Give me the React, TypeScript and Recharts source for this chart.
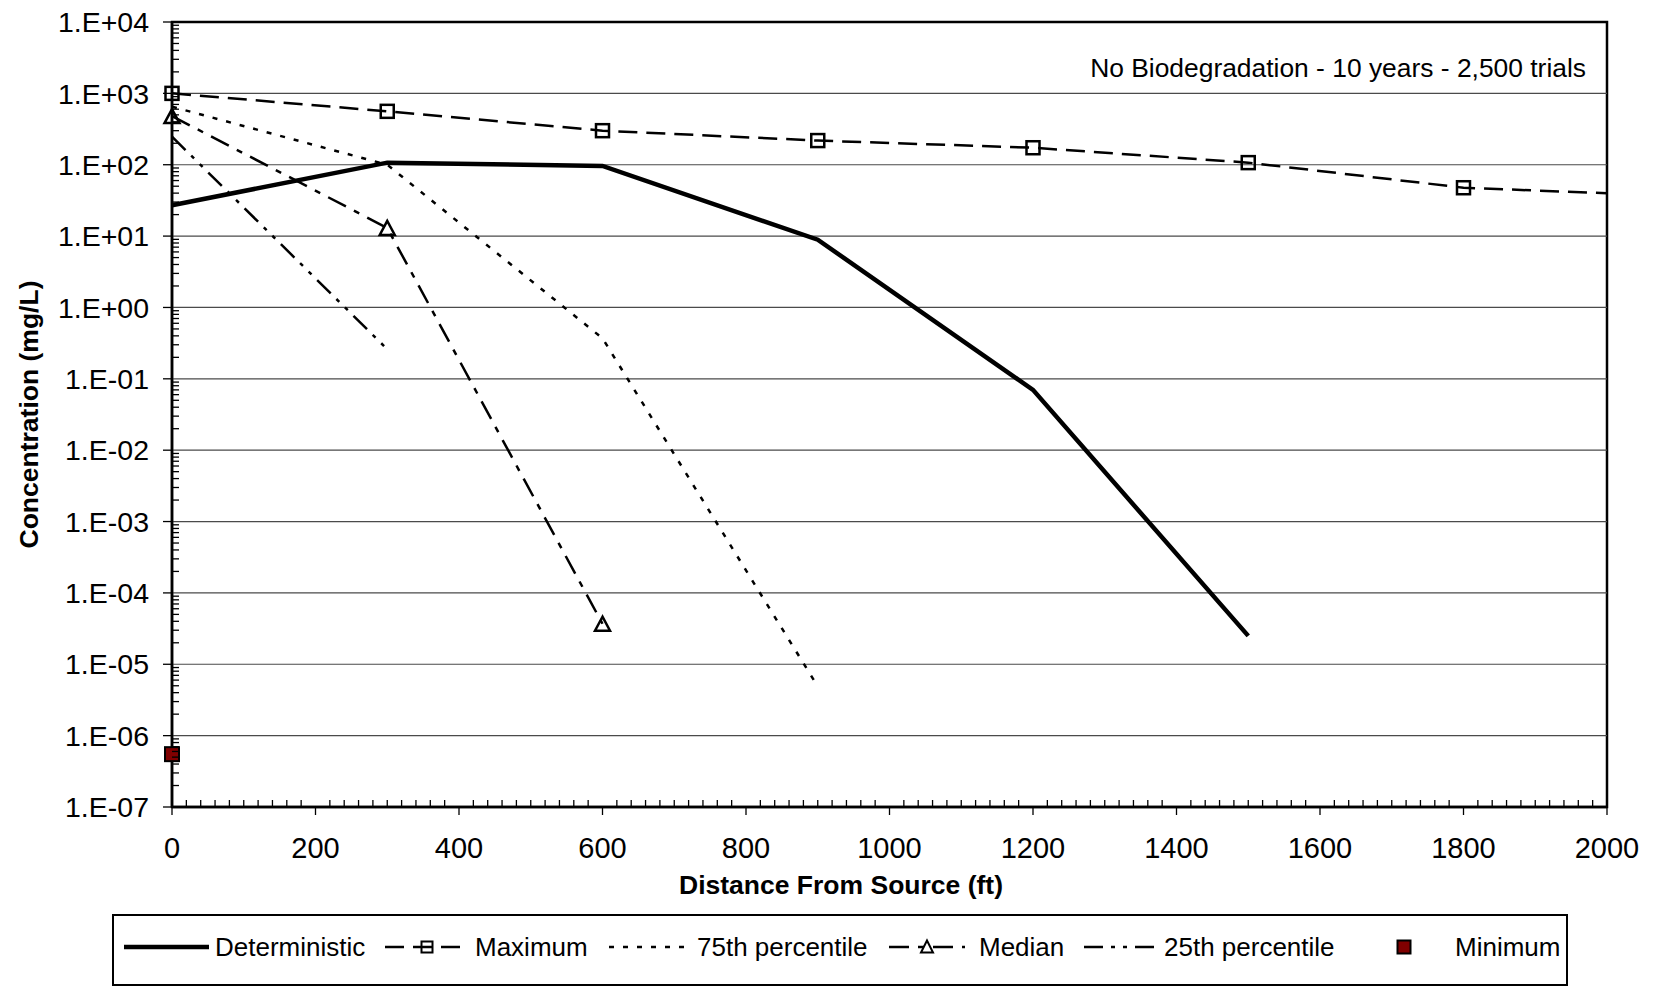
import React from "react";
import { ComposedChart, Line, XAxis, YAxis, ReferenceLine, ReferenceArea, Legend, Label } from "recharts";

const FONT = "'Liberation Sans', Arial, sans-serif";

// distance from source (ft)
const distanceFt = [0, 300, 600, 900, 1200, 1500, 1800, 2000];

// concentration (mg/L)
const deterministic = [27, 107, 96, 8.9, 0.07, 2.5e-5];
const maximum = [1000, 560, 300, 218, 173, 107, 47.6, 39.8];
const pct75 = [650, 100, 0.37, 4.9e-6];
const median = [480, 13, 3.7e-5];
const pct25 = [247, 0.26];
const minimum = [5.5e-7];

const xTicks = [0, 200, 400, 600, 800, 1000, 1200, 1400, 1600, 1800, 2000];
const yTicks = [1e-7, 1e-6, 1e-5, 1e-4, 1e-3, 1e-2, 1e-1, 1, 10, 100, 1000, 10000];
const yTickLabels = [
  "1.E-07", "1.E-06", "1.E-05", "1.E-04", "1.E-03", "1.E-02",
  "1.E-01", "1.E+00", "1.E+01", "1.E+02", "1.E+03", "1.E+04",
];

const note = "No Biodegradation - 10 years - 2,500 trials";

// minor ticks: every 20 ft, and 2..9 inside each decade
const xMinor = Array.from({ length: 101 }, (_, i) => i * 20);
const yMinor = yTicks.slice(0, -1).flatMap((d) => [2, 3, 4, 5, 6, 7, 8, 9].map((m) => m * d));
const yAll = [...yTicks, ...yMinor].sort((a, b) => a - b);

const toPoints = (vals: number[]) => vals.map((y, i) => ({ x: distanceFt[i], y }));

const MAX_DASH = "19 9";
const P75_DASH = "5 9";
const MED_DASH = "20 9 6 9";
const P25_DASH = "19 8 4 8 4 8";

const isMajorY = (v: number) => yTicks.findIndex((t) => Math.abs(t - v) <= t * 1e-6);

const YTick = (props: any) => {
  const { x, y, payload } = props;
  const i = isMajorY(payload.value);
  if (i < 0) {
    return <line x1={x} x2={x + 7} y1={y} y2={y} stroke="#000" strokeWidth={1.3} />;
  }
  return (
    <g>
      <line x1={x - 9} x2={x} y1={y} y2={y} stroke="#000" strokeWidth={1.3} />
      <text x={x - 23} y={y} dy="0.358em" textAnchor="end" fontSize={28.5} fontFamily={FONT} fill="#000">
        {yTickLabels[i]}
      </text>
    </g>
  );
};

const XTick = (props: any) => {
  const { x, y, payload } = props;
  const v = payload.value;
  if (!xTicks.includes(v)) {
    return <line x1={x} x2={x} y1={y} y2={y - 7} stroke="#000" strokeWidth={1.3} />;
  }
  return (
    <g>
      <line x1={x} x2={x} y1={y} y2={y + 8} stroke="#000" strokeWidth={1.3} />
      <text x={x} y={y + 41} dy="0.358em" textAnchor="middle" fontSize={29} fontFamily={FONT} fill="#000">
        {v}
      </text>
    </g>
  );
};

const OpenSquare = (props: any) => {
  const { cx, cy, index } = props;
  // last point sits on the axis edge, Excel shows no marker there
  if (index === maximum.length - 1) return <g key={`sq-${index}`} />;
  return (
    <rect key={`sq-${index}`} x={cx - 6.5} y={cy - 6.5} width={13} height={13} fill="none" stroke="#000" strokeWidth={2.5} />
  );
};

const OpenTriangle = (props: any) => {
  const { cx, cy, index } = props;
  return (
    <polygon
      key={`tri-${index}`}
      points={`${cx},${cy - 7} ${cx - 7.5},${cy + 7} ${cx + 7.5},${cy + 7}`}
      fill="none"
      stroke="#000"
      strokeWidth={2.5}
    />
  );
};

const RedSquare = (props: any) => {
  const { cx, cy, index } = props;
  return (
    <rect key={`min-${index}`} x={cx - 7} y={cy - 7} width={14} height={14} fill="#800000" stroke="#000" strokeWidth={2} />
  );
};

const legendItems = [
  { name: "Deterministic", left: 10, w: 85, dash: undefined, sw: 4.5, marker: null, labelLeft: 101 },
  { name: "Maximum", left: 271, w: 84, dash: MAX_DASH, sw: 2.5, marker: "square", labelLeft: 361 },
  { name: "75th percentile", left: 495, w: 81, dash: P75_DASH, sw: 2.5, marker: null, labelLeft: 583 },
  { name: "Median", left: 775, w: 76, dash: MED_DASH, sw: 2.5, marker: "triangle", labelLeft: 865 },
  { name: "25th percentile", left: 970, w: 75, dash: P25_DASH, sw: 2.5, marker: null, labelLeft: 1050 },
  { name: "Minimum", left: 1280, w: 20, dash: undefined, sw: 0, marker: "red", labelLeft: 1341 },
];

const LegendBox = () => (
  <div
    style={{
      position: "relative",
      width: "100%",
      height: "100%",
      boxSizing: "border-box",
      border: "2px solid #000",
      background: "#fff",
      fontFamily: FONT,
      fontSize: 26,
      color: "#000",
    }}
  >
    {legendItems.map((it) => (
      <React.Fragment key={it.name}>
        <svg width={it.w} height={20} style={{ position: "absolute", left: it.left, top: 21 }}>
          {it.sw > 0 && (
            <line x1={0} x2={it.w} y1={10} y2={10} stroke="#000" strokeWidth={it.sw} strokeDasharray={it.dash} />
          )}
          {it.marker === "square" && (
            <rect x={it.w / 2 - 5.5} y={4.5} width={11} height={11} fill="none" stroke="#000" strokeWidth={2} />
          )}
          {it.marker === "triangle" && (
            <polygon
              points={`${it.w / 2},${3.5} ${it.w / 2 - 6},${15.5} ${it.w / 2 + 6},${15.5}`}
              fill="none"
              stroke="#000"
              strokeWidth={2}
            />
          )}
          {it.marker === "red" && (
            <rect x={it.w / 2 - 6.5} y={3.5} width={13} height={13} fill="#800000" stroke="#000" strokeWidth={2} />
          )}
        </svg>
        <div style={{ position: "absolute", left: it.labelLeft, top: 16, lineHeight: "30px", whiteSpace: "nowrap" }}>
          {it.name}
        </div>
      </React.Fragment>
    ))}
  </div>
);

export default function App() {
  return (
    <div style={{ position: "relative", width: 1640, height: 979, fontFamily: FONT }}>
      <style>{`.recharts-surface, .recharts-wrapper { overflow: visible !important; }`}</style>
      <ComposedChart width={1640} height={979} margin={{ top: 14, right: 41, bottom: 0, left: 0 }}>
        <XAxis
          xAxisId="d"
          dataKey="x"
          type="number"
          domain={[0, 2000]}
          ticks={xMinor}
          interval={0}
          tick={<XTick />}
          tickLine={false}
          tickSize={0}
          tickMargin={0}
          height={108}
          axisLine={{ stroke: "#000", strokeWidth: 2.5 }}
        >
          <Label
            content={(p: any) => {
              const vb = p.viewBox;
              return (
                <text
                  x={vb.x + vb.width / 2 - 48.5}
                  y={vb.y + 78}
                  dy="0.358em"
                  textAnchor="middle"
                  fontSize={26.5}
                  fontWeight="bold"
                  fontFamily={FONT}
                  fill="#000"
                >
                  Distance From Source (ft)
                </text>
              );
            }}
          />
        </XAxis>
        <YAxis
          yAxisId="c"
          dataKey="y"
          type="number"
          scale="log"
          domain={[1e-7, 1e4]}
          ticks={yAll}
          interval={0}
          tick={<YTick />}
          tickLine={false}
          tickSize={0}
          tickMargin={0}
          width={164}
          axisLine={{ stroke: "#000", strokeWidth: 2.5 }}
        >
          <Label
            content={(p: any) => {
              const vb = p.viewBox;
              const cx = vb.x + 20.5;
              const cy = vb.y + vb.height / 2;
              return (
                <text
                  x={cx}
                  y={cy}
                  dy="0.358em"
                  transform={`rotate(-90, ${cx}, ${cy})`}
                  textAnchor="middle"
                  fontSize={26.5}
                  fontWeight="bold"
                  fontFamily={FONT}
                  fill="#000"
                >
                  Concentration (mg/L)
                </text>
              );
            }}
          />
        </YAxis>

        {yTicks.slice(1, -1).map((v) => (
          <ReferenceLine key={v} xAxisId="d" yAxisId="c" y={v} stroke="#4a4a4a" strokeWidth={1.2} />
        ))}
        <ReferenceArea
          xAxisId="d"
          yAxisId="c"
          x1={0}
          x2={2000}
          y1={1e-7}
          y2={1e4}
          fill="none"
          fillOpacity={0}
          stroke="#000"
          strokeWidth={2.5}
        />

        <Line
          xAxisId="d"
          yAxisId="c"
          name="Maximum"
          data={toPoints(maximum)}
          dataKey="y"
          stroke="#000"
          strokeWidth={2.5}
          strokeDasharray={MAX_DASH}
          dot={OpenSquare}
          activeDot={false}
          isAnimationActive={false}
        />
        <Line
          xAxisId="d"
          yAxisId="c"
          name="75th percentile"
          data={toPoints(pct75)}
          dataKey="y"
          stroke="#000"
          strokeWidth={2.5}
          strokeDasharray={P75_DASH}
          dot={false}
          activeDot={false}
          isAnimationActive={false}
        />
        <Line
          xAxisId="d"
          yAxisId="c"
          name="Median"
          data={toPoints(median)}
          dataKey="y"
          stroke="#000"
          strokeWidth={2.5}
          strokeDasharray={MED_DASH}
          dot={OpenTriangle}
          activeDot={false}
          isAnimationActive={false}
        />
        <Line
          xAxisId="d"
          yAxisId="c"
          name="25th percentile"
          data={toPoints(pct25)}
          dataKey="y"
          stroke="#000"
          strokeWidth={2.5}
          strokeDasharray={P25_DASH}
          dot={false}
          activeDot={false}
          isAnimationActive={false}
        />
        <Line
          xAxisId="d"
          yAxisId="c"
          name="Deterministic"
          data={toPoints(deterministic)}
          dataKey="y"
          stroke="#000"
          strokeWidth={4.5}
          dot={false}
          activeDot={false}
          isAnimationActive={false}
        />
        <Line
          xAxisId="d"
          yAxisId="c"
          name="Minimum"
          data={toPoints(minimum)}
          dataKey="y"
          stroke="none"
          dot={RedSquare}
          activeDot={false}
          isAnimationActive={false}
        />

        <Legend
          verticalAlign="bottom"
          wrapperStyle={{ left: 104, top: 906, width: 1456, height: 72 }}
          content={() => <LegendBox />}
        />
      </ComposedChart>
      <div
        style={{
          position: "absolute",
          right: 62,
          top: 44.6,
          lineHeight: "30px",
          fontSize: 26.4,
          color: "#000",
          whiteSpace: "nowrap",
        }}
      >
        {note}
      </div>
    </div>
  );
}
